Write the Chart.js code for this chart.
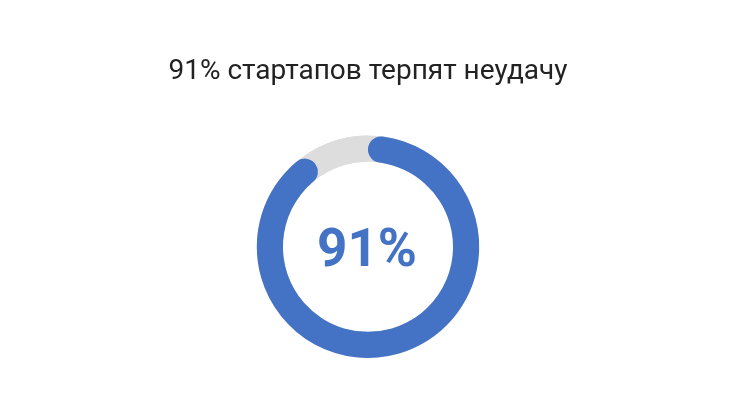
<!DOCTYPE html>
<html>
<head>
<meta charset="utf-8">
<script src="https://cdn.jsdelivr.net/npm/chart.js@4/dist/chart.umd.min.js"></script>
<style>
  html, body { margin: 0; padding: 0; background: #ffffff; }
  #wrap { width: 730px; height: 416px; position: relative; }
</style>
</head>
<body>
<div id="wrap"><canvas id="failChart"></canvas></div>
<script>
  var chartTitle = "91% стартапов терпят неудачу";
  var categories = ["Неудача", "Успех"];
  var shares = [91, 9];
  var centerLabel = "91%";

  var BLUE = "#4472c4";
  var GREY = "#dddddd";

  // grey track under the whole ring, so the rounded ends sit on grey
  var trackPlugin = {
    id: "track",
    beforeDatasetsDraw: function (chart) {
      var arc = chart.getDatasetMeta(0).data[0];
      if (!arc) return;
      var ctx = chart.ctx;
      var mid = (arc.outerRadius + arc.innerRadius) / 2;
      ctx.save();
      ctx.beginPath();
      ctx.arc(arc.x, arc.y, mid, 0, Math.PI * 2);
      ctx.lineWidth = arc.outerRadius - arc.innerRadius;
      ctx.strokeStyle = GREY;
      ctx.stroke();
      ctx.restore();
    }
  };

  var centerTextPlugin = {
    id: "centerText",
    afterDatasetsDraw: function (chart) {
      var arc = chart.getDatasetMeta(0).data[0];
      if (!arc) return;
      var ctx = chart.ctx;
      ctx.save();
      ctx.font = "bold 53px Roboto, 'Noto Sans', sans-serif";
      ctx.fillStyle = BLUE;
      ctx.textAlign = "center";
      ctx.textBaseline = "alphabetic";
      ctx.fillText(centerLabel, arc.x - 1, arc.y + 19);
      ctx.restore();
    }
  };

  new Chart(document.getElementById("failChart"), {
    type: "doughnut",
    data: {
      labels: categories,
      datasets: [{
        data: shares,
        backgroundColor: [BLUE, GREY],
        borderWidth: 0,
        borderRadius: [20, 0]
      }]
    },
    options: {
      responsive: true,
      maintainAspectRatio: false,
      animation: false,
      cutout: "76.5%",
      layout: { padding: { left: 6, right: 0, top: 0, bottom: 58 } },
      plugins: {
        legend: { display: false },
        tooltip: { enabled: false },
        title: {
          display: true,
          text: chartTitle,
          color: "#222222",
          font: { family: "Roboto, 'Noto Sans', sans-serif", size: 28, weight: "normal", lineHeight: 1.2 },
          padding: { top: 55, bottom: 47 }
        }
      }
    },
    plugins: [trackPlugin, centerTextPlugin]
  });
</script>
</body>
</html>
